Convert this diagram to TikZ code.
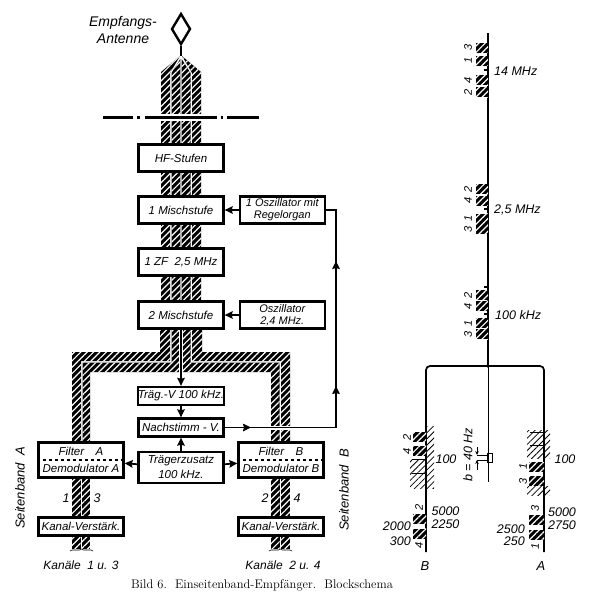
\documentclass[tikz,border=0pt]{standalone}
\usepackage{fontspec}
\setsansfont{Liberation Sans}
\usepackage{tikz}
\usetikzlibrary{arrows.meta, positioning, shapes.geometric, patterns.meta, decorations.pathreplacing}

\begin{document}
\begin{tikzpicture}[
  x=1pt, y=-1pt,
  node distance=14pt and 14pt,
  blk/.style={rectangle, draw=black, line width=2.3pt, fill=white, inner sep=0pt,
              minimum width=85pt, minimum height=27pt, align=center,
              font=\sffamily\itshape\fontsize{11.5}{13}\selectfont},
  fblk/.style={blk, minimum height=35pt, font=\sffamily\itshape\fontsize{11.5}{17}\selectfont},
  tblk/.style={blk, minimum height=18pt},
  hatch/.style={fill=black, postaction={pattern={Lines[angle=45,distance=4.5pt,line width=1.2pt]},
                pattern color=white}},
  sblk/.style={rectangle, inner sep=0pt, minimum width=12pt, minimum height=10pt, hatch},
  thin hatch/.style={pattern={Lines[angle=45,distance=4.4pt,line width=0.8pt]}, pattern color=black},
  ln/.style={line width=1.7pt},
  halo/.style={preaction={draw=white, line width=4pt}},
  arr/.style={ln, -{Stealth[length=8pt, width=7.5pt, inset=1pt]}},
  lbl/.style={inner sep=0pt, font=\sffamily\itshape\fontsize{12.5}{14}\selectfont},
  rlbl/.style={lbl, rotate=90, font=\sffamily\itshape\fontsize{11}{12}\selectfont},
]

\useasboundingbox (0,0) rectangle (589,592);
\clip (0,0) rectangle (589,592);

%% ---- Left: block diagram ----
%% hatched channel strips
\fill[hatch] (161,301) -- (161,72) -- (180,56) -- (170,73) -- (170,301) -- cycle;
\fill[hatch] (171.5,301) -- (171.5,73) -- (180.3,59) -- (180.3,301) -- cycle;
\fill[hatch] (181.7,301) -- (181.7,59) -- (190.5,73) -- (190.5,301) -- cycle;
\fill[hatch] (192,301) -- (192,73) -- (182,56) -- (201,72) -- (201,301) -- cycle;

\fill[hatch] (160,329) -- (170,329) -- (170,361) -- (81,361) -- (81,442) -- (72,442) -- (72,352) -- (160,352) -- cycle;
\fill[hatch] (171.5,329) -- (180.3,329) -- (180.3,372) -- (90,372) -- (90,442) -- (82.5,442) -- (82.5,362.5) -- (171.5,362.5) -- cycle;
\fill[hatch] (181.7,329) -- (190.5,329) -- (190.5,362.5) -- (279.5,362.5) -- (279.5,442) -- (271,442) -- (271,372) -- (181.7,372) -- cycle;
\fill[hatch] (192,329) -- (202,329) -- (202,352) -- (290,352) -- (290,442) -- (281,442) -- (281,361) -- (192,361) -- cycle;

\fill[hatch] (72,478) rectangle (80.5,549);
\fill[hatch] (82,478) rectangle (90,549);
\fill[hatch] (271,478) rectangle (279.5,549);
\fill[hatch] (281,478) rectangle (290,549);

%% antenna
\node[diamond, draw=black, line width=2.4pt, inner sep=0pt, minimum width=19pt, minimum height=31pt, fill=white]
      (ant) at (181,29) {};
\coordinate (anttip) at (181,56);
\draw[line width=2.4pt] (ant) -- (anttip);
\node[lbl, align=center, font=\sffamily\itshape\fontsize{14}{17}\selectfont] (antl) at (123,30) {Empfangs-\\Antenne};

%% dash-dotted limit
\coordinate (limw) at (103,117);
\coordinate (lime) at (260,117);
\draw[white, line width=7pt] (limw) -- (lime);
\draw[line width=3pt, dash pattern=on 30pt off 4pt on 2.5pt off 5pt on 72pt off 4pt on 2.5pt off 4pt on 32pt] (limw) -- (lime);

\node[blk]  (hf)    at (181,158) {HF-Stufen};
\node[blk]  (misch1) at (181,210) {1 Mischstufe};
\node[blk]  (zf)    at (181,262) {1 ZF\ \ 2,5 MHz};
\node[blk]  (misch2) at (181,315) {2 Mischstufe};
\node[blk, right=of misch1, font=\sffamily\itshape\fontsize{11}{12}\selectfont] (osc1) {1 Oszillator mit\\Regelorgan};
\node[blk, right=of misch2, font=\sffamily\itshape\fontsize{11}{12}\selectfont] (osc2) {Oszillator\\2,4 MHz.};
\node[tblk] (traeg) at (181,396) {Träg.-V 100 kHz.};
\node[tblk] (nach)  at (181,427.5) {Nachstimm - V.};
\node[blk, minimum height=31pt, font=\sffamily\itshape\fontsize{11.5}{15}\selectfont]
      (zus) at (181,467.5) {Trägerzusatz\\100 kHz.};
\node[fblk] (filta) at (81,460) {Filter\quad A\\Demodulator A};
\node[fblk] (filtb) at (281,460) {Filter\quad B\\Demodulator B};
\node[tblk] (kana)  at (81,526.5) {Kanal-Verstärk.};
\node[tblk] (kanb)  at (281,526.5) {Kanal-Verstärk.};

\draw[line width=1.1pt, dashed] (filta.west) -- (filta.east);
\draw[line width=1.1pt, dashed] (filtb.west) -- (filtb.east);

\draw[arr, halo] (misch2) -- (traeg);
\draw[arr] (traeg) -- (nach);
\draw[arr] (zus) -- (nach);
\draw[arr] (zus) -- (filta);
\draw[arr] (zus) -- (filtb);
\draw[arr] (osc1) -- (misch1);
\draw[arr] (osc2) -- (misch2);

%% regulating loop
\coordinate (knee) at (336,427.5);
\coordinate (ah) at (251,427.5);
\coordinate (av) at (336,386);
\coordinate (at) at (336,261);
\draw[ln, halo] (nach) -- (knee) |- (osc1);
\draw[arr] (nach) -- (ah);
\draw[arr] (knee) -- (av);
\draw[arr] (knee) -- (at);

\node[lbl] (n1) at (66,498) {1};
\node[lbl] (n3) at (97,498) {3};
\node[lbl] (n2) at (265,498) {2};
\node[lbl] (n4) at (297,498) {4};

\coordinate (bral) at (70,551);
\coordinate (brar) at (93,551);
\coordinate (brbl) at (269,551);
\coordinate (brbr) at (292,551);
\draw[decorate, decoration={brace, amplitude=2pt}, line width=0.6pt] (bral) -- (brar);
\draw[decorate, decoration={brace, amplitude=2pt}, line width=0.6pt] (brbl) -- (brbr);
\node[lbl, font=\sffamily\itshape\fontsize{12}{14}\selectfont] (kla) at (81,565) {Kanäle\ \ 1 u. 3};
\node[lbl, font=\sffamily\itshape\fontsize{12}{14}\selectfont] (klb) at (283,565) {Kanäle\ \ 2 u. 4};

\node[lbl, rotate=90, font=\sffamily\itshape\fontsize{13}{15}\selectfont] (sba) at (20,488) {Seitenband\ \ A};
\node[lbl, rotate=90, font=\sffamily\itshape\fontsize{13}{15}\selectfont] (sbb) at (344,490) {Seitenband\ \ B};

%% ---- Right: spectrum ----
\coordinate (stop) at (488,33);
\coordinate (sjoin) at (488,366);
\coordinate (send) at (488,482);
\coordinate (bend) at (426,552);
\coordinate (aend) at (544,552);
\draw[ln] (stop) -- (sjoin);
\draw[line width=0.9pt] (sjoin) -- (send);
\draw[ln, rounded corners=4pt] (bend) |- (sjoin) -| (aend);
\fill (sjoin) circle (1.8pt);

%% 14 MHz
\node[sblk] (a3) at (482,47.5) {};
\node[sblk] (a1) at (482,60.5) {};
\node[sblk] (a4) at (482,80) {};
\node[sblk] (a2) at (482,92) {};
\node[rlbl] (a3l) at (468,47) {3};
\node[rlbl] (a1l) at (468,60) {1};
\node[rlbl] (a4l) at (468,80) {4};
\node[rlbl] (a2l) at (468,92) {2};
\draw[line width=2pt] (484,70) -- (488,70);
\node[lbl, anchor=west] (f14) at (494,71) {14 MHz};

%% 2,5 MHz
\node[sblk] (b2) at (482,189) {};
\node[sblk] (b4) at (482,200.5) {};
\node[sblk] (b1) at (482,218.5) {};
\node[sblk] (b3) at (482,229) {};
\node[rlbl] (b2l) at (468,189) {2};
\node[rlbl] (b4l) at (468,200) {4};
\node[rlbl] (b1l) at (468,218) {1};
\node[rlbl] (b3l) at (468,229) {3};
\draw[line width=2pt] (484,209) -- (488,209);
\node[lbl, anchor=west] (f25) at (494,210) {2,5 MHz};

%% 100 kHz
\node[sblk] (c2) at (482,295) {};
\node[sblk] (c4) at (482,306) {};
\node[sblk] (c1) at (482,323) {};
\node[sblk] (c3) at (482,334) {};
\node[rlbl] (c2l) at (468,295) {2};
\node[rlbl] (c4l) at (468,306) {4};
\node[rlbl] (c1l) at (468,323) {1};
\node[rlbl] (c3l) at (468,334) {3};
\draw[line width=2pt] (484,287) -- (488,287);
\draw[line width=2pt] (484,313.5) -- (488,313.5);
\node[lbl, anchor=west] (f100) at (495,315) {100 kHz};

%% sideband B
\fill[thin hatch] (410,459) rectangle (426,488);
\fill[thin hatch] (426,426) rectangle (434,488);
\draw[line width=0.6pt] (412,459) -- (426,459) (412,473) -- (426,473);
\node[sblk, minimum width=13pt] (d2) at (419.5,437) {};
\node[sblk, minimum width=13pt] (d4) at (419.5,450.5) {};
\node[rlbl] (d2l) at (407,437) {2};
\node[rlbl] (d4l) at (407,451) {4};
\node[lbl] (d100) at (446,459) {100};
\node[sblk, minimum width=13pt] (e2) at (419.5,518.5) {};
\node[sblk, minimum width=13pt] (e4) at (419.5,533.5) {};
\node[rlbl] (e2l) at (419,507) {2};
\node[rlbl] (e4l) at (419,545) {4};
\node[lbl] (e5000) at (445.5,511) {5000};
\node[lbl] (e2250) at (445.5,524) {2250};
\node[lbl, anchor=east] (e2000) at (411,526) {2000};
\node[lbl, anchor=east] (e300) at (411,541) {300};
\node[lbl, font=\sffamily\itshape\fontsize{13}{15}\selectfont] (lb) at (425,566) {B};

%% bandwidth mark
\node[draw=black, line width=0.8pt, inner sep=0pt, minimum width=5pt, minimum height=9pt] (win) at (489.5,457.5) {};
\coordinate (mu1) at (477,447);
\coordinate (mu2) at (477,455);
\coordinate (ml1) at (477,470);
\coordinate (ml2) at (477,460);
\draw[line width=0.8pt, -{Stealth[length=4pt, width=3.5pt]}] (mu1) -- (mu2);
\draw[line width=0.8pt, -{Stealth[length=4pt, width=3.5pt]}] (ml1) -- (ml2);
\draw[line width=0.6pt] (mu2) -- (win.north west |- mu2) (ml2) -- (win.south west |- ml2);
\node[rlbl, font=\sffamily\itshape\fontsize{12.5}{14}\selectfont] (bw) at (468,455) {b = 40 Hz};

%% sideband A
\fill[thin hatch] (527,430) rectangle (544,458);
\fill[thin hatch] (544,430) rectangle (550,458);
\fill[thin hatch] (527,486) rectangle (550,495);
\draw[line width=0.6pt] (530,432) -- (544,432) (530,445) -- (544,445);
\node[sblk, minimum width=15pt] (g1) at (536.5,467) {};
\node[sblk, minimum width=15pt] (g3) at (536.5,481) {};
\node[rlbl] (g1l) at (523,466) {1};
\node[rlbl] (g3l) at (523,481) {3};
\node[lbl] (g100) at (565,459) {100};
\node[sblk, minimum width=15pt] (h3) at (536.5,519.5) {};
\node[sblk, minimum width=15pt] (h1) at (536.5,534.5) {};
\node[rlbl] (h3l) at (535,508) {3};
\node[rlbl] (h1l) at (535,546) {1};
\node[lbl] (h5000) at (562,512) {5000};
\node[lbl] (h2750) at (562,525) {2750};
\node[lbl, anchor=east] (h2500) at (525,529) {2500};
\node[lbl, anchor=east] (h250) at (525,541) {250};
\node[lbl, font=\sffamily\itshape\fontsize{13}{15}\selectfont] (la) at (541,566) {A};

%% caption
\node[anchor=base, inner sep=0pt, font=\rmfamily\fontsize{12.5}{14}\selectfont\addfontfeatures{LetterSpace=40}]
      (cap) at (262,588.5) {Bild 6.\ \ Einseitenband-Empfänger.\ \ Blockschema};

\end{tikzpicture}
\end{document}
